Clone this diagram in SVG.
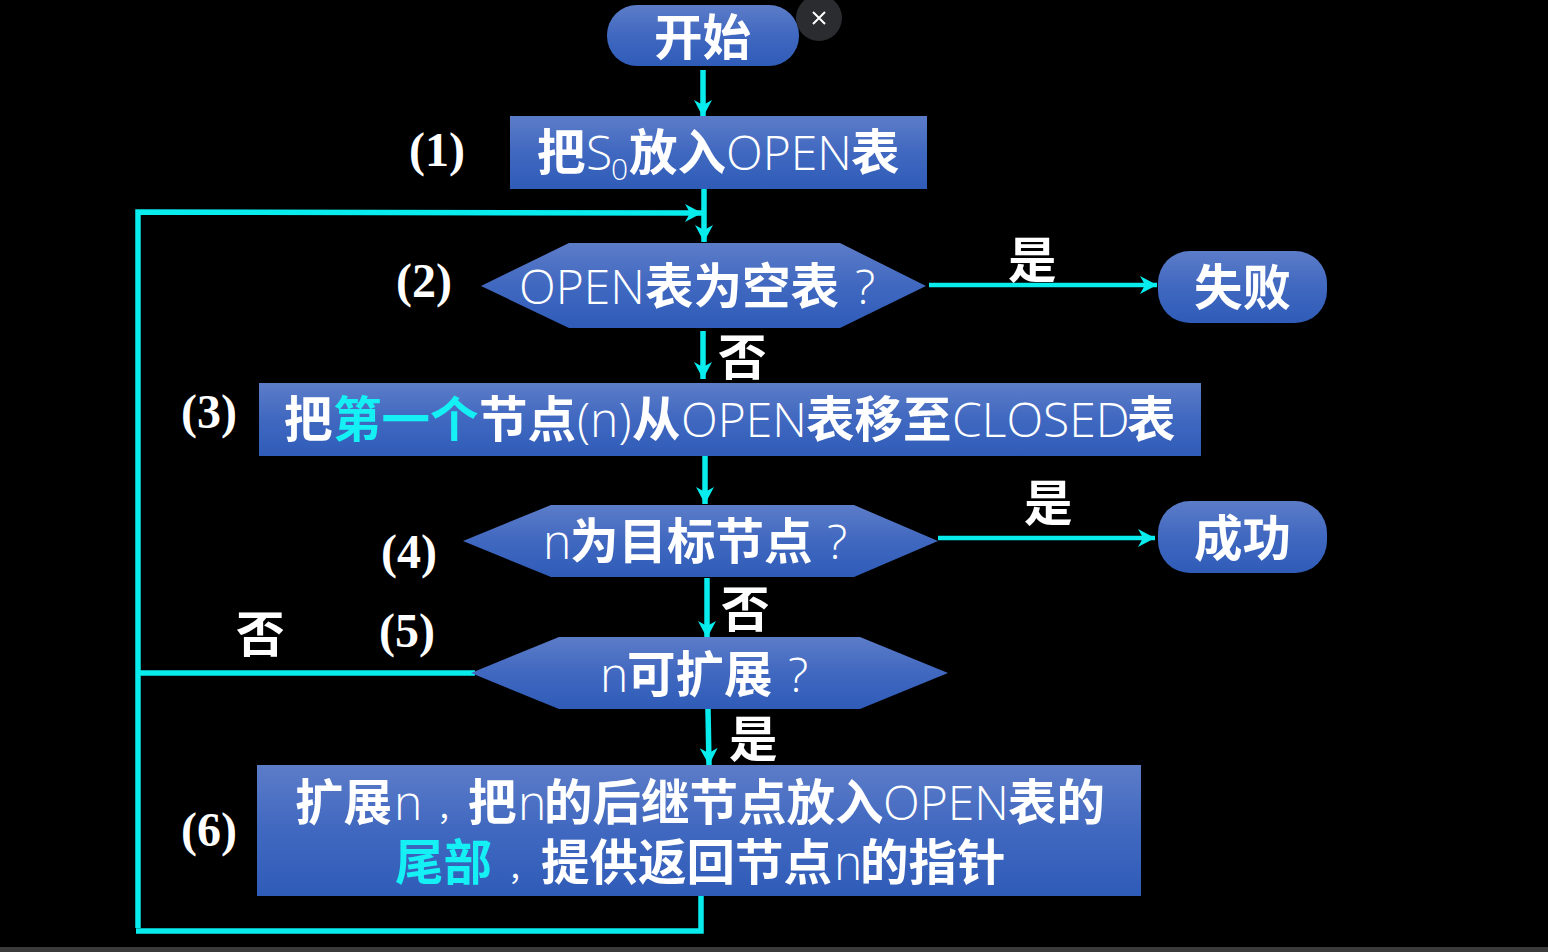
<svg xmlns="http://www.w3.org/2000/svg" width="1548" height="952" viewBox="0 0 1548 952">
<style>
text{font-family:"Noto Sans CJK SC","Noto Sans",sans-serif;font-weight:700;fill:#fff;font-size:48.5px}
.l{font-family:"Open Sans","Noto Sans",sans-serif;font-weight:300;font-size:48px}
.q{font-weight:400;font-size:30px}
.c{fill:#14f0f4}
.n{font-family:"Liberation Serif",serif;font-weight:700;font-size:48px}
.f{fill:url(#g)}
.w{fill:none;stroke:#08ecee;stroke-width:5.5}
.t{fill:none;stroke:#08ecee;stroke-width:5.5;marker-end:url(#a)}
.h{fill:none;stroke:#08ecee;stroke-width:4.5;marker-end:url(#a)}
</style>
<defs>
<linearGradient id="g" x1="0" y1="0" x2="0" y2="1"><stop offset="0" stop-color="#5c7cc8"/><stop offset="0.5" stop-color="#4068c0"/><stop offset="1" stop-color="#2f5cb8"/></linearGradient>
<marker id="a" markerUnits="userSpaceOnUse" markerWidth="22" markerHeight="22" refX="17" refY="10" orient="auto"><path d="M0 1L17 10L0 19L5 10Z" fill="#08ecee"/></marker>
</defs>
<rect width="1548" height="952" fill="#000"/>
<rect y="947" width="1548" height="5" fill="#3a3a3a"/>
<g id="connectors">
<path class="t" d="M703 70V117"/>
<path class="t" d="M704 186V242"/>
<path class="t" d="M138 928V212L702 213"/>
<path class="h" d="M929 285H1157"/>
<path class="t" d="M703 331V379"/>
<path class="t" d="M705 456V504"/>
<path class="h" d="M938 538H1155"/>
<path class="t" d="M707 578V638"/>
<path class="w" d="M475 673H138"/>
<path class="t" d="M708 709L709 765"/>
<path class="w" d="M701 895V931H136"/>
</g>
<g id="start"><rect class="f" x="607" y="5" width="192" height="61" rx="30"/><text x="654" y="55">开始</text></g>
<g id="close"><circle cx="819" cy="18" r="23" fill="#2a2c2f"/><path d="M813 12L825 24M825 12L813 24" stroke="#fff" stroke-width="2" fill="none"/></g>
<g id="step1"><rect class="f" x="510" y="116" width="417" height="73"/><text y="170"><tspan x="537">把</tspan><tspan class="l" x="586">S</tspan><tspan class="l" x="611" y="180" style="font-size:30px">0</tspan><tspan x="629" y="170">放入</tspan><tspan class="l" x="726">OPEN</tspan><tspan x="851">表</tspan></text></g>
<g id="step2"><path class="f" d="M481 286L569 243H840L926 286L840 328H569Z"/><text y="304"><tspan class="l" x="519">OPEN</tspan><tspan x="645">表为空表</tspan><tspan class="l" x="855">?</tspan></text></g>
<g id="fail"><rect class="f" x="1158" y="251" width="169" height="72" rx="32"/><text x="1194" y="305">失败</text></g>
<g id="step3"><rect class="f" x="259" y="383" width="942" height="73"/><text y="437"><tspan x="284">把</tspan><tspan class="c" x="333">第一个</tspan><tspan x="479">节点</tspan><tspan class="l" x="577">(n)</tspan><tspan x="632">从</tspan><tspan class="l" x="681">OPEN</tspan><tspan x="806">表移至</tspan><tspan class="l" x="952">CLOSED</tspan><tspan x="1127">表</tspan></text></g>
<g id="step4"><path class="f" d="M463 541L551 505H854L938 541L854 577H551Z"/><text y="559"><tspan class="l" x="543">n</tspan><tspan x="570">为目标节点</tspan><tspan class="l" x="827">?</tspan></text></g>
<g id="success"><rect class="f" x="1158" y="501" width="169" height="72" rx="32"/><text x="1194" y="556">成功</text></g>
<g id="step5"><path class="f" d="M471 673L559 637H860L948 673L860 709H559Z"/><text y="692"><tspan class="l" x="600">n</tspan><tspan x="627">可扩展</tspan><tspan class="l" x="788">?</tspan></text></g>
<g id="step6"><rect class="f" x="257" y="765" width="884" height="131"/><text y="820"><tspan x="295">扩展</tspan><tspan class="l" x="394">n</tspan><tspan class="q" x="437">，</tspan><tspan x="468">把</tspan><tspan class="l" x="518">n</tspan><tspan x="544">的后继节点放入</tspan><tspan class="l" x="883">OPEN</tspan><tspan x="1008">表的</tspan></text><text y="880"><tspan class="c" x="395">尾部</tspan><tspan class="q" x="508">，</tspan><tspan x="541">提供返回节点</tspan><tspan class="l" x="834">n</tspan><tspan x="860">的指针</tspan></text></g>
<g id="labels">
<text class="n" x="409" y="166">(1)</text>
<text class="n" x="396" y="297">(2)</text>
<text class="n" x="181" y="428">(3)</text>
<text class="n" x="381" y="568">(4)</text>
<text class="n" x="379" y="647">(5)</text>
<text class="n" x="181" y="846">(6)</text>
<text x="1008" y="278">是</text>
<text x="718" y="375">否</text>
<text x="1024" y="521">是</text>
<text x="721" y="627">否</text>
<text x="236" y="652">否</text>
<text x="729" y="757">是</text>
</g>
</svg>
